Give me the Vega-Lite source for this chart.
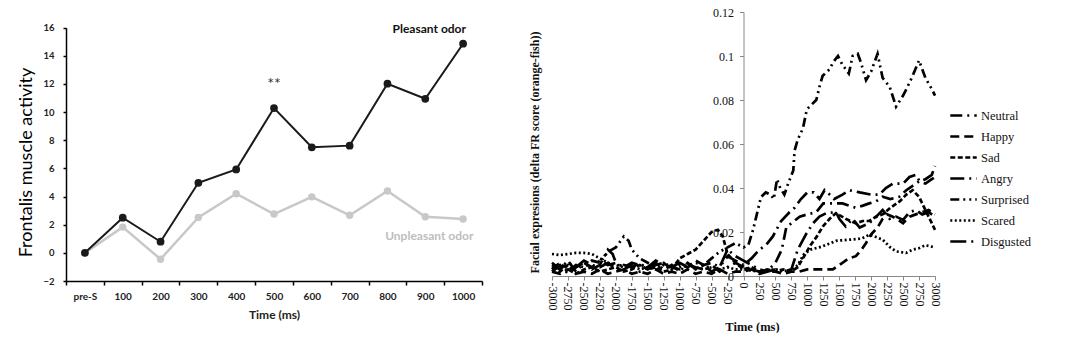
{
  "$schema": "https://vega.github.io/schema/vega-lite/v6.json",
  "padding": {"left": 17, "top": 6, "right": 0, "bottom": 0},
  "background": "white",
  "config": {"view": {"stroke": null}, "axis": {"grid": false}},
  "spacing": 45,
  "datasets": {
    "odor": [
      {"t": "pre-S", "cond": "Unpleasant", "v": 0},
      {"t": "100", "cond": "Unpleasant", "v": 1.83},
      {"t": "200", "cond": "Unpleasant", "v": -0.45},
      {"t": "300", "cond": "Unpleasant", "v": 2.52},
      {"t": "400", "cond": "Unpleasant", "v": 4.2},
      {"t": "500", "cond": "Unpleasant", "v": 2.76},
      {"t": "600", "cond": "Unpleasant", "v": 3.98},
      {"t": "700", "cond": "Unpleasant", "v": 2.67},
      {"t": "800", "cond": "Unpleasant", "v": 4.4},
      {"t": "900", "cond": "Unpleasant", "v": 2.57},
      {"t": "1000", "cond": "Unpleasant", "v": 2.4},
      {"t": "pre-S", "cond": "Pleasant", "v": 0},
      {"t": "100", "cond": "Pleasant", "v": 2.5},
      {"t": "200", "cond": "Pleasant", "v": 0.79},
      {"t": "300", "cond": "Pleasant", "v": 4.98},
      {"t": "400", "cond": "Pleasant", "v": 5.93},
      {"t": "500", "cond": "Pleasant", "v": 10.29},
      {"t": "600", "cond": "Pleasant", "v": 7.5},
      {"t": "700", "cond": "Pleasant", "v": 7.62},
      {"t": "800", "cond": "Pleasant", "v": 12.02},
      {"t": "900", "cond": "Pleasant", "v": 10.95},
      {"t": "1000", "cond": "Pleasant", "v": 14.86}
    ],
    "notes": [
      {"t": "900", "v": 15.93, "label": "Pleasant odor", "cond": "Pleasant"},
      {"t": "900", "v": 1.2, "label": "Unpleasant odor", "cond": "Unpleasant"}
    ],
    "stars": [
      {"t": "500", "v": 12.0, "label": "**"}
    ],
    "face": [
      {"t": -3000, "e": "Neutral", "v": 0.006}, {"t": -2875, "e": "Neutral", "v": 0.003}, {"t": -2750, "e": "Neutral", "v": 0.007}, {"t": -2625, "e": "Neutral", "v": 0.002}, {"t": -2500, "e": "Neutral", "v": 0.006}, {"t": -2375, "e": "Neutral", "v": 0.004}, {"t": -2250, "e": "Neutral", "v": 0.007}, {"t": -2125, "e": "Neutral", "v": 0.005}, {"t": -2000, "e": "Neutral", "v": 0.006}, {"t": -1875, "e": "Neutral", "v": 0.004}, {"t": -1750, "e": "Neutral", "v": 0.006}, {"t": -1625, "e": "Neutral", "v": 0.005}, {"t": -1500, "e": "Neutral", "v": 0.004}, {"t": -1375, "e": "Neutral", "v": 0.007}, {"t": -1250, "e": "Neutral", "v": 0.005}, {"t": -1125, "e": "Neutral", "v": 0.004}, {"t": -1000, "e": "Neutral", "v": 0.003}, {"t": -875, "e": "Neutral", "v": 0.005}, {"t": -750, "e": "Neutral", "v": 0.004}, {"t": -625, "e": "Neutral", "v": 0.003}, {"t": -500, "e": "Neutral", "v": 0.005}, {"t": -375, "e": "Neutral", "v": 0.002}, {"t": -250, "e": "Neutral", "v": 0.004}, {"t": -125, "e": "Neutral", "v": 0.006},
      {"t": 0, "e": "Neutral", "v": 0.004}, {"t": 125, "e": "Neutral", "v": 0.003}, {"t": 250, "e": "Neutral", "v": 0.002}, {"t": 400, "e": "Neutral", "v": 0.003}, {"t": 500, "e": "Neutral", "v": 0.006}, {"t": 600, "e": "Neutral", "v": 0.012}, {"t": 670, "e": "Neutral", "v": 0.022}, {"t": 750, "e": "Neutral", "v": 0.024}, {"t": 880, "e": "Neutral", "v": 0.027}, {"t": 1000, "e": "Neutral", "v": 0.028}, {"t": 1140, "e": "Neutral", "v": 0.029}, {"t": 1250, "e": "Neutral", "v": 0.033}, {"t": 1400, "e": "Neutral", "v": 0.033}, {"t": 1550, "e": "Neutral", "v": 0.033}, {"t": 1650, "e": "Neutral", "v": 0.032}, {"t": 1760, "e": "Neutral", "v": 0.031}, {"t": 1870, "e": "Neutral", "v": 0.032}, {"t": 1970, "e": "Neutral", "v": 0.033}, {"t": 2080, "e": "Neutral", "v": 0.034}, {"t": 2180, "e": "Neutral", "v": 0.036}, {"t": 2300, "e": "Neutral", "v": 0.035}, {"t": 2440, "e": "Neutral", "v": 0.036}, {"t": 2550, "e": "Neutral", "v": 0.039}, {"t": 2650, "e": "Neutral", "v": 0.041}, {"t": 2750, "e": "Neutral", "v": 0.043}, {"t": 2850, "e": "Neutral", "v": 0.042}, {"t": 2950, "e": "Neutral", "v": 0.044}, {"t": 3000, "e": "Neutral", "v": 0.045},

      {"t": -3000, "e": "Happy", "v": 0.002}, {"t": -2875, "e": "Happy", "v": 0.001}, {"t": -2750, "e": "Happy", "v": 0.003}, {"t": -2625, "e": "Happy", "v": 0.001}, {"t": -2500, "e": "Happy", "v": 0.002}, {"t": -2375, "e": "Happy", "v": 0.001}, {"t": -2250, "e": "Happy", "v": 0.003}, {"t": -2125, "e": "Happy", "v": 0.001}, {"t": -2000, "e": "Happy", "v": 0.002}, {"t": -1875, "e": "Happy", "v": 0.003}, {"t": -1750, "e": "Happy", "v": 0.001}, {"t": -1625, "e": "Happy", "v": 0.002}, {"t": -1500, "e": "Happy", "v": 0.001}, {"t": -1375, "e": "Happy", "v": 0.003}, {"t": -1250, "e": "Happy", "v": 0.001}, {"t": -1125, "e": "Happy", "v": 0.002}, {"t": -1000, "e": "Happy", "v": 0.001}, {"t": -875, "e": "Happy", "v": 0.003}, {"t": -750, "e": "Happy", "v": 0.001}, {"t": -625, "e": "Happy", "v": 0.002}, {"t": -500, "e": "Happy", "v": 0.001}, {"t": -375, "e": "Happy", "v": 0.003}, {"t": -250, "e": "Happy", "v": 0.001}, {"t": -125, "e": "Happy", "v": 0.002},
      {"t": 0, "e": "Happy", "v": 0.002}, {"t": 125, "e": "Happy", "v": 0.003}, {"t": 250, "e": "Happy", "v": 0.001}, {"t": 375, "e": "Happy", "v": 0.002}, {"t": 500, "e": "Happy", "v": 0.002}, {"t": 625, "e": "Happy", "v": 0.001}, {"t": 750, "e": "Happy", "v": 0.002}, {"t": 875, "e": "Happy", "v": 0.002}, {"t": 1000, "e": "Happy", "v": 0.003}, {"t": 1125, "e": "Happy", "v": 0.003}, {"t": 1250, "e": "Happy", "v": 0.003}, {"t": 1400, "e": "Happy", "v": 0.003}, {"t": 1550, "e": "Happy", "v": 0.006}, {"t": 1650, "e": "Happy", "v": 0.008}, {"t": 1760, "e": "Happy", "v": 0.009}, {"t": 1850, "e": "Happy", "v": 0.012}, {"t": 1920, "e": "Happy", "v": 0.015}, {"t": 2000, "e": "Happy", "v": 0.019}, {"t": 2100, "e": "Happy", "v": 0.022}, {"t": 2180, "e": "Happy", "v": 0.026}, {"t": 2250, "e": "Happy", "v": 0.028}, {"t": 2330, "e": "Happy", "v": 0.027}, {"t": 2400, "e": "Happy", "v": 0.026}, {"t": 2500, "e": "Happy", "v": 0.024}, {"t": 2600, "e": "Happy", "v": 0.027}, {"t": 2700, "e": "Happy", "v": 0.028}, {"t": 2800, "e": "Happy", "v": 0.029}, {"t": 2900, "e": "Happy", "v": 0.03}, {"t": 3000, "e": "Happy", "v": 0.028},

      {"t": -3000, "e": "Sad", "v": 0.004}, {"t": -2875, "e": "Sad", "v": 0.002}, {"t": -2750, "e": "Sad", "v": 0.005}, {"t": -2625, "e": "Sad", "v": 0.001}, {"t": -2500, "e": "Sad", "v": 0.003}, {"t": -2375, "e": "Sad", "v": 0.004}, {"t": -2250, "e": "Sad", "v": 0.002}, {"t": -2125, "e": "Sad", "v": 0.003}, {"t": -2000, "e": "Sad", "v": 0.004}, {"t": -1875, "e": "Sad", "v": 0.002}, {"t": -1750, "e": "Sad", "v": 0.003}, {"t": -1625, "e": "Sad", "v": 0.005}, {"t": -1500, "e": "Sad", "v": 0.003}, {"t": -1375, "e": "Sad", "v": 0.004}, {"t": -1250, "e": "Sad", "v": 0.002}, {"t": -1125, "e": "Sad", "v": 0.003}, {"t": -1000, "e": "Sad", "v": 0.008}, {"t": -875, "e": "Sad", "v": 0.01}, {"t": -750, "e": "Sad", "v": 0.012}, {"t": -625, "e": "Sad", "v": 0.016}, {"t": -500, "e": "Sad", "v": 0.02}, {"t": -400, "e": "Sad", "v": 0.021}, {"t": -325, "e": "Sad", "v": 0.018}, {"t": -250, "e": "Sad", "v": 0.01}, {"t": -125, "e": "Sad", "v": 0.006},
      {"t": 0, "e": "Sad", "v": 0.003}, {"t": 125, "e": "Sad", "v": 0.004}, {"t": 250, "e": "Sad", "v": 0.002}, {"t": 375, "e": "Sad", "v": 0.003}, {"t": 500, "e": "Sad", "v": 0.002}, {"t": 625, "e": "Sad", "v": 0.003}, {"t": 750, "e": "Sad", "v": 0.002}, {"t": 850, "e": "Sad", "v": 0.004}, {"t": 950, "e": "Sad", "v": 0.009}, {"t": 1050, "e": "Sad", "v": 0.014}, {"t": 1150, "e": "Sad", "v": 0.018}, {"t": 1242, "e": "Sad", "v": 0.0225}, {"t": 1350, "e": "Sad", "v": 0.026}, {"t": 1450, "e": "Sad", "v": 0.0286}, {"t": 1600, "e": "Sad", "v": 0.026}, {"t": 1760, "e": "Sad", "v": 0.024}, {"t": 1870, "e": "Sad", "v": 0.025}, {"t": 1970, "e": "Sad", "v": 0.025}, {"t": 2080, "e": "Sad", "v": 0.027}, {"t": 2180, "e": "Sad", "v": 0.028}, {"t": 2300, "e": "Sad", "v": 0.031}, {"t": 2450, "e": "Sad", "v": 0.034}, {"t": 2550, "e": "Sad", "v": 0.037}, {"t": 2650, "e": "Sad", "v": 0.039}, {"t": 2750, "e": "Sad", "v": 0.036}, {"t": 2850, "e": "Sad", "v": 0.03}, {"t": 2950, "e": "Sad", "v": 0.024}, {"t": 3000, "e": "Sad", "v": 0.021},

      {"t": -3000, "e": "Angry", "v": 0.002}, {"t": -2875, "e": "Angry", "v": 0.005}, {"t": -2750, "e": "Angry", "v": 0.001}, {"t": -2625, "e": "Angry", "v": 0.004}, {"t": -2500, "e": "Angry", "v": 0.006}, {"t": -2375, "e": "Angry", "v": 0.003}, {"t": -2250, "e": "Angry", "v": 0.005}, {"t": -2125, "e": "Angry", "v": 0.012}, {"t": -2050, "e": "Angry", "v": 0.01}, {"t": -2000, "e": "Angry", "v": 0.006}, {"t": -1875, "e": "Angry", "v": 0.003}, {"t": -1750, "e": "Angry", "v": 0.005}, {"t": -1625, "e": "Angry", "v": 0.002}, {"t": -1500, "e": "Angry", "v": 0.004}, {"t": -1375, "e": "Angry", "v": 0.006}, {"t": -1250, "e": "Angry", "v": 0.003}, {"t": -1125, "e": "Angry", "v": 0.005}, {"t": -1000, "e": "Angry", "v": 0.002}, {"t": -875, "e": "Angry", "v": 0.006}, {"t": -750, "e": "Angry", "v": 0.003}, {"t": -625, "e": "Angry", "v": 0.005}, {"t": -500, "e": "Angry", "v": 0.002}, {"t": -375, "e": "Angry", "v": 0.004}, {"t": -250, "e": "Angry", "v": 0.009}, {"t": -125, "e": "Angry", "v": 0.007},
      {"t": 0, "e": "Angry", "v": 0.005}, {"t": 125, "e": "Angry", "v": 0.008}, {"t": 250, "e": "Angry", "v": 0.012}, {"t": 350, "e": "Angry", "v": 0.014}, {"t": 460, "e": "Angry", "v": 0.018}, {"t": 590, "e": "Angry", "v": 0.025}, {"t": 720, "e": "Angry", "v": 0.029}, {"t": 800, "e": "Angry", "v": 0.031}, {"t": 900, "e": "Angry", "v": 0.035}, {"t": 1000, "e": "Angry", "v": 0.038}, {"t": 1100, "e": "Angry", "v": 0.038}, {"t": 1190, "e": "Angry", "v": 0.035}, {"t": 1270, "e": "Angry", "v": 0.039}, {"t": 1350, "e": "Angry", "v": 0.037}, {"t": 1420, "e": "Angry", "v": 0.035}, {"t": 1550, "e": "Angry", "v": 0.037}, {"t": 1660, "e": "Angry", "v": 0.039}, {"t": 1820, "e": "Angry", "v": 0.038}, {"t": 2000, "e": "Angry", "v": 0.037}, {"t": 2130, "e": "Angry", "v": 0.037}, {"t": 2230, "e": "Angry", "v": 0.04}, {"t": 2340, "e": "Angry", "v": 0.042}, {"t": 2500, "e": "Angry", "v": 0.042}, {"t": 2600, "e": "Angry", "v": 0.045}, {"t": 2700, "e": "Angry", "v": 0.046}, {"t": 2760, "e": "Angry", "v": 0.043}, {"t": 2850, "e": "Angry", "v": 0.044}, {"t": 2950, "e": "Angry", "v": 0.046}, {"t": 3000, "e": "Angry", "v": 0.05},

      {"t": -3000, "e": "Surprised", "v": 0.003}, {"t": -2875, "e": "Surprised", "v": 0.006}, {"t": -2750, "e": "Surprised", "v": 0.002}, {"t": -2625, "e": "Surprised", "v": 0.005}, {"t": -2500, "e": "Surprised", "v": 0.004}, {"t": -2375, "e": "Surprised", "v": 0.007}, {"t": -2250, "e": "Surprised", "v": 0.006}, {"t": -2125, "e": "Surprised", "v": 0.011}, {"t": -2000, "e": "Surprised", "v": 0.013}, {"t": -1875, "e": "Surprised", "v": 0.018}, {"t": -1800, "e": "Surprised", "v": 0.016}, {"t": -1750, "e": "Surprised", "v": 0.012}, {"t": -1625, "e": "Surprised", "v": 0.008}, {"t": -1500, "e": "Surprised", "v": 0.006}, {"t": -1375, "e": "Surprised", "v": 0.004}, {"t": -1250, "e": "Surprised", "v": 0.006}, {"t": -1125, "e": "Surprised", "v": 0.003}, {"t": -1000, "e": "Surprised", "v": 0.005}, {"t": -875, "e": "Surprised", "v": 0.004}, {"t": -750, "e": "Surprised", "v": 0.006}, {"t": -625, "e": "Surprised", "v": 0.005}, {"t": -500, "e": "Surprised", "v": 0.008}, {"t": -375, "e": "Surprised", "v": 0.011}, {"t": -250, "e": "Surprised", "v": 0.013}, {"t": -125, "e": "Surprised", "v": 0.015},
      {"t": 0, "e": "Surprised", "v": 0.013}, {"t": 75, "e": "Surprised", "v": 0.014}, {"t": 150, "e": "Surprised", "v": 0.021}, {"t": 200, "e": "Surprised", "v": 0.027}, {"t": 275, "e": "Surprised", "v": 0.036}, {"t": 350, "e": "Surprised", "v": 0.038}, {"t": 425, "e": "Surprised", "v": 0.037}, {"t": 475, "e": "Surprised", "v": 0.035}, {"t": 525, "e": "Surprised", "v": 0.044}, {"t": 575, "e": "Surprised", "v": 0.04}, {"t": 640, "e": "Surprised", "v": 0.037}, {"t": 700, "e": "Surprised", "v": 0.042}, {"t": 780, "e": "Surprised", "v": 0.048}, {"t": 800, "e": "Surprised", "v": 0.057}, {"t": 850, "e": "Surprised", "v": 0.062}, {"t": 930, "e": "Surprised", "v": 0.067}, {"t": 980, "e": "Surprised", "v": 0.074}, {"t": 1000, "e": "Surprised", "v": 0.076}, {"t": 1140, "e": "Surprised", "v": 0.08}, {"t": 1190, "e": "Surprised", "v": 0.086}, {"t": 1240, "e": "Surprised", "v": 0.091}, {"t": 1350, "e": "Surprised", "v": 0.094}, {"t": 1400, "e": "Surprised", "v": 0.097}, {"t": 1480, "e": "Surprised", "v": 0.1}, {"t": 1550, "e": "Surprised", "v": 0.096}, {"t": 1650, "e": "Surprised", "v": 0.092}, {"t": 1710, "e": "Surprised", "v": 0.1}, {"t": 1790, "e": "Surprised", "v": 0.101}, {"t": 1840, "e": "Surprised", "v": 0.097}, {"t": 1920, "e": "Surprised", "v": 0.089}, {"t": 2000, "e": "Surprised", "v": 0.093}, {"t": 2050, "e": "Surprised", "v": 0.097}, {"t": 2100, "e": "Surprised", "v": 0.101}, {"t": 2180, "e": "Surprised", "v": 0.09}, {"t": 2290, "e": "Surprised", "v": 0.086}, {"t": 2390, "e": "Surprised", "v": 0.077}, {"t": 2500, "e": "Surprised", "v": 0.082}, {"t": 2570, "e": "Surprised", "v": 0.086}, {"t": 2650, "e": "Surprised", "v": 0.091}, {"t": 2750, "e": "Surprised", "v": 0.098}, {"t": 2850, "e": "Surprised", "v": 0.09}, {"t": 2950, "e": "Surprised", "v": 0.085}, {"t": 3000, "e": "Surprised", "v": 0.082},

      {"t": -3000, "e": "Scared", "v": 0.01}, {"t": -2875, "e": "Scared", "v": 0.0095}, {"t": -2750, "e": "Scared", "v": 0.01}, {"t": -2625, "e": "Scared", "v": 0.0105}, {"t": -2500, "e": "Scared", "v": 0.0105}, {"t": -2375, "e": "Scared", "v": 0.01}, {"t": -2250, "e": "Scared", "v": 0.008}, {"t": -2125, "e": "Scared", "v": 0.006}, {"t": -2000, "e": "Scared", "v": 0.005}, {"t": -1875, "e": "Scared", "v": 0.004}, {"t": -1750, "e": "Scared", "v": 0.005}, {"t": -1625, "e": "Scared", "v": 0.003}, {"t": -1500, "e": "Scared", "v": 0.004}, {"t": -1375, "e": "Scared", "v": 0.003}, {"t": -1250, "e": "Scared", "v": 0.005}, {"t": -1125, "e": "Scared", "v": 0.003}, {"t": -1000, "e": "Scared", "v": 0.004}, {"t": -875, "e": "Scared", "v": 0.005}, {"t": -750, "e": "Scared", "v": 0.004}, {"t": -625, "e": "Scared", "v": 0.003}, {"t": -500, "e": "Scared", "v": 0.004}, {"t": -375, "e": "Scared", "v": 0.003}, {"t": -250, "e": "Scared", "v": 0.004}, {"t": -125, "e": "Scared", "v": 0.003},
      {"t": 0, "e": "Scared", "v": 0.003}, {"t": 250, "e": "Scared", "v": 0.002}, {"t": 500, "e": "Scared", "v": 0.003}, {"t": 750, "e": "Scared", "v": 0.002}, {"t": 850, "e": "Scared", "v": 0.005}, {"t": 950, "e": "Scared", "v": 0.01}, {"t": 1050, "e": "Scared", "v": 0.012}, {"t": 1242, "e": "Scared", "v": 0.0135}, {"t": 1450, "e": "Scared", "v": 0.016}, {"t": 1660, "e": "Scared", "v": 0.0165}, {"t": 1850, "e": "Scared", "v": 0.017}, {"t": 1973, "e": "Scared", "v": 0.0188}, {"t": 2050, "e": "Scared", "v": 0.018}, {"t": 2181, "e": "Scared", "v": 0.0165}, {"t": 2300, "e": "Scared", "v": 0.013}, {"t": 2390, "e": "Scared", "v": 0.0112}, {"t": 2546, "e": "Scared", "v": 0.0105}, {"t": 2650, "e": "Scared", "v": 0.012}, {"t": 2756, "e": "Scared", "v": 0.0127}, {"t": 2850, "e": "Scared", "v": 0.014}, {"t": 3000, "e": "Scared", "v": 0.013},

      {"t": -3000, "e": "Disgusted", "v": 0.005}, {"t": -2875, "e": "Disgusted", "v": 0.003}, {"t": -2750, "e": "Disgusted", "v": 0.006}, {"t": -2625, "e": "Disgusted", "v": 0.004}, {"t": -2500, "e": "Disgusted", "v": 0.007}, {"t": -2375, "e": "Disgusted", "v": 0.005}, {"t": -2250, "e": "Disgusted", "v": 0.004}, {"t": -2125, "e": "Disgusted", "v": 0.006}, {"t": -2000, "e": "Disgusted", "v": 0.003}, {"t": -1875, "e": "Disgusted", "v": 0.005}, {"t": -1750, "e": "Disgusted", "v": 0.004}, {"t": -1625, "e": "Disgusted", "v": 0.006}, {"t": -1500, "e": "Disgusted", "v": 0.003}, {"t": -1375, "e": "Disgusted", "v": 0.005}, {"t": -1250, "e": "Disgusted", "v": 0.006}, {"t": -1125, "e": "Disgusted", "v": 0.004}, {"t": -1000, "e": "Disgusted", "v": 0.006}, {"t": -875, "e": "Disgusted", "v": 0.004}, {"t": -750, "e": "Disgusted", "v": 0.007}, {"t": -625, "e": "Disgusted", "v": 0.005}, {"t": -500, "e": "Disgusted", "v": 0.006}, {"t": -375, "e": "Disgusted", "v": 0.004}, {"t": -250, "e": "Disgusted", "v": 0.012}, {"t": -125, "e": "Disgusted", "v": 0.009},
      {"t": 0, "e": "Disgusted", "v": 0.007}, {"t": 125, "e": "Disgusted", "v": 0.005}, {"t": 250, "e": "Disgusted", "v": 0.003}, {"t": 375, "e": "Disgusted", "v": 0.002}, {"t": 500, "e": "Disgusted", "v": 0.003}, {"t": 625, "e": "Disgusted", "v": 0.002}, {"t": 750, "e": "Disgusted", "v": 0.003}, {"t": 850, "e": "Disgusted", "v": 0.012}, {"t": 980, "e": "Disgusted", "v": 0.019}, {"t": 1090, "e": "Disgusted", "v": 0.024}, {"t": 1190, "e": "Disgusted", "v": 0.027}, {"t": 1300, "e": "Disgusted", "v": 0.0286}, {"t": 1450, "e": "Disgusted", "v": 0.029}, {"t": 1500, "e": "Disgusted", "v": 0.026}, {"t": 1600, "e": "Disgusted", "v": 0.0225}, {"t": 1710, "e": "Disgusted", "v": 0.026}, {"t": 1820, "e": "Disgusted", "v": 0.022}, {"t": 1970, "e": "Disgusted", "v": 0.024}, {"t": 2080, "e": "Disgusted", "v": 0.027}, {"t": 2180, "e": "Disgusted", "v": 0.03}, {"t": 2290, "e": "Disgusted", "v": 0.026}, {"t": 2390, "e": "Disgusted", "v": 0.027}, {"t": 2500, "e": "Disgusted", "v": 0.0255}, {"t": 2600, "e": "Disgusted", "v": 0.029}, {"t": 2700, "e": "Disgusted", "v": 0.03}, {"t": 2800, "e": "Disgusted", "v": 0.028}, {"t": 2900, "e": "Disgusted", "v": 0.029}, {"t": 3000, "e": "Disgusted", "v": 0.027}
    ]
  },
  "hconcat": [
    {
      "width": 416,
      "height": 269,
      "encoding": {
        "x": {
          "field": "t", "type": "nominal", "sort": null,
          "scale": {"type": "band", "paddingInner": 0, "paddingOuter": 0, "domain": ["pre-S", "100", "200", "300", "400", "500", "600", "700", "800", "900", "1000"]},
          "axis": {
            "title": "Time (ms)", "titleFont": "Lato", "titleFontSize": 12, "titleFontWeight": "bold", "titleColor": "#222", "titlePadding": 8,
            "labelAngle": 0, "labelFont": "Lato", "labelFontWeight": "bold", "labelFontSize": 10, "labelColor": "#222", "labelPadding": 6,
            "tickBand": "extent", "tickSize": 4, "tickColor": "#000", "tickWidth": 1.5, "domainColor": "#000", "domainWidth": 1.5
          }
        },
        "y": {
          "field": "v", "type": "quantitative",
          "scale": {"domain": [-2, 16], "range": [269, 15.7], "nice": false, "zero": false},
          "axis": {
            "values": [-2, 0, 2, 4, 6, 8, 10, 12, 14, 16],
            "domain": true, "domainColor": "#000", "domainWidth": 1.5,
            "title": "Frontalis muscle activity", "titleFont": "Lato", "titleFontSize": 18, "titleFontWeight": "normal", "titleColor": "#000", "titlePadding": 7, "titleY": 150,
            "labelFont": "Lato", "labelFontWeight": "bold", "labelFontSize": 9.5, "labelColor": "#222", "labelPadding": 9,
            "tickSize": 3, "tickColor": "#000", "tickWidth": 1.5
          }
        }
      },
      "layer": [
        {
          "data": {"name": "odor"},
          "transform": [{"filter": "datum.cond === 'Unpleasant'"}],
          "mark": {"type": "line", "color": "#c8c8c8", "strokeWidth": 2.5, "point": {"filled": true, "size": 55, "color": "#c8c8c8"}}
        },
        {
          "data": {"name": "odor"},
          "transform": [{"filter": "datum.cond === 'Pleasant'"}],
          "mark": {"type": "line", "color": "#1a1a1a", "strokeWidth": 2, "point": {"filled": true, "size": 60, "color": "#1a1a1a"}}
        },
        {
          "data": {"name": "notes"},
          "mark": {"type": "text", "font": "Lato", "fontSize": 12, "fontWeight": "bold", "dx": 4},
          "encoding": {
            "text": {"field": "label"},
            "color": {"field": "cond", "type": "nominal", "scale": {"domain": ["Pleasant", "Unpleasant"], "range": ["#111111", "#bdbdbd"]}, "legend": null}
          }
        },
        {
          "data": {"name": "stars"},
          "mark": {"type": "text", "font": "Lato", "fontSize": 16, "color": "#333"},
          "encoding": {"text": {"field": "label"}}
        }
      ]
    },
    {
      "width": 383,
      "height": 264,
      "data": {"name": "face"},
      "mark": {"type": "line", "color": "#000", "strokeWidth": 2.7},
      "encoding": {
        "x": {
          "field": "t", "type": "quantitative",
          "scale": {"domain": [-3000, 3000], "nice": false},
          "axis": {
            "values": [-3000, -2750, -2500, -2250, -2000, -1750, -1500, -1250, -1000, -750, -500, -250, 0, 250, 500, 750, 1000, 1250, 1500, 1750, 2000, 2250, 2500, 2750, 3000],
            "labelExpr": "'' + datum.value", "labelAngle": 90, "labelFont": "Liberation Serif", "labelFontSize": 12, "labelColor": "#111", "labelPadding": 2,
            "tickSize": 4, "tickColor": "#888", "domainColor": "#888",
            "title": "Time (ms)", "titleFont": "Liberation Serif", "titleFontSize": 12.5, "titleFontWeight": "bold", "titleColor": "#111",
            "titleX": 200, "titleY": 50, "titleBaseline": "middle", "titleAlign": "center"
          }
        },
        "y": {
          "field": "v", "type": "quantitative",
          "scale": {"domain": [0, 0.12], "nice": false},
          "axis": {
            "values": [0, 0.02, 0.04, 0.06, 0.08, 0.1, 0.12], "format": ".2~f", "offset": -191.5,
            "labelFont": "Liberation Serif", "labelFontSize": 12, "labelColor": "#111", "labelPadding": 6,
            "tickSize": 4, "tickColor": "#888", "domainColor": "#888",
            "title": "Facial expresions (delta  FR score (orange-fish))", "titleFont": "Liberation Serif", "titleFontSize": 12, "titleFontWeight": "bold", "titleColor": "#111",
            "titleX": -208.7, "titleY": 140, "titleBaseline": "middle", "titleAlign": "center", "titleAngle": -90
          }
        },
        "strokeDash": {
          "field": "e", "type": "nominal",
          "scale": {
            "domain": ["Neutral", "Happy", "Sad", "Angry", "Surprised", "Scared", "Disgusted"],
            "range": [[12, 5, 2, 5], [9, 5], [5, 2.5], [14, 5, 2, 5], [9, 4, 2, 4, 2, 4], [2, 2.5], [16, 5, 2, 5]]
          },
          "legend": {
            "title": null, "orient": "none", "legendX": 883, "legendY": 89,
            "symbolType": "stroke", "symbolSize": 700, "symbolStrokeWidth": 2.5, "symbolStrokeColor": "#000",
            "labelFont": "Liberation Serif", "labelFontSize": 12.5, "labelColor": "#111", "labelOffset": 3, "rowPadding": 0
          }
        }
      }
    }
  ]
}
